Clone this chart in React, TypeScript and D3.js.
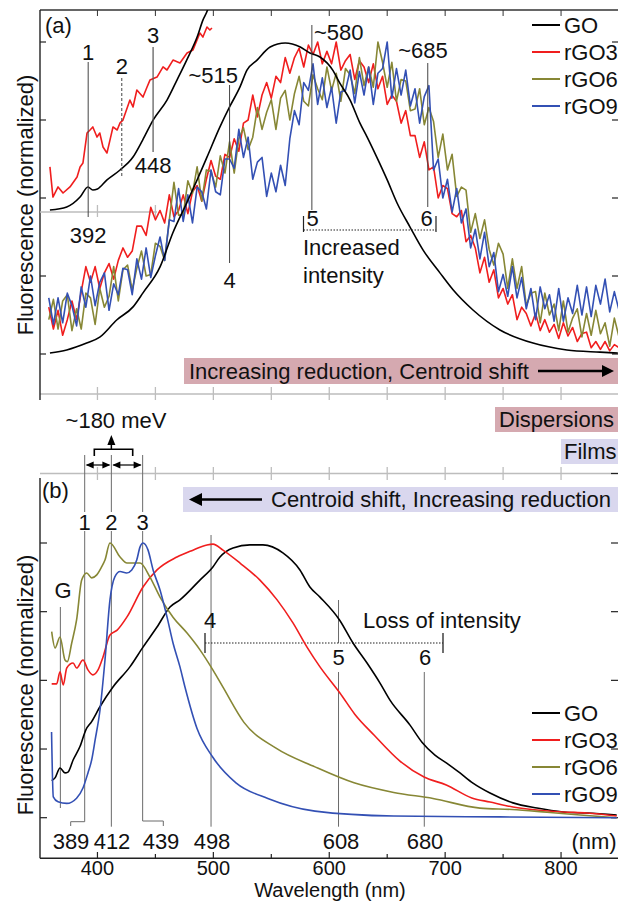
import { useEffect, useRef } from 'react';
import * as d3 from 'd3';

const W = 618;
const H = 901;
const FONT = '"Liberation Sans", Arial, Helvetica, sans-serif';

const seriesNames = ['GO', 'rGO3', 'rGO6', 'rGO9'];
const seriesColors = ['#000000', '#f01e1e', '#878735', '#3350b4'];

const xMajor = [400, 500, 600, 700, 800];
const xMinor = [450, 550, 650, 750];
const yTicks = [0, 0.25, 0.5, 0.75, 1];

// (a) dispersions, noisy spectra sampled every 4 nm
const dispNm = [
  358, 362, 366, 370, 374, 378, 382, 386, 390, 394,
  398, 402, 406, 410, 414, 418, 422, 426, 430, 434,
  438, 442, 446, 450, 454, 458, 462, 466, 470, 474,
  478, 482, 486, 490, 494, 498, 502, 506, 510, 514,
  518, 522, 526, 530, 534, 538, 542, 546, 550, 554,
  558, 562, 566, 570, 574, 578, 582, 586, 590, 594,
  598, 602, 606, 610, 614, 618, 622, 626, 630, 634,
  638, 642, 646, 650, 654, 658, 662, 666, 670, 674,
  678, 682, 686, 690, 694, 698, 702, 706, 710, 714,
  718, 722, 726, 730, 734, 738, 742, 746, 750, 754,
  758, 762, 766, 770, 774, 778, 782, 786, 790, 794,
  798, 802, 806, 810, 814, 818, 822, 826, 830, 834,
  838, 842, 846, 850,
];
const dispRGO3 = [
  0.15, 0.08, 0.14, 0.06, 0.11, 0.17, 0.11, 0.20, 0.28, 0.23,
  0.28, 0.21, 0.26, 0.29, 0.24, 0.30, 0.34, 0.31, 0.33, 0.41,
  0.41, 0.38, 0.47, 0.43, 0.46, 0.42, 0.51, 0.44, 0.46, 0.51,
  0.45, 0.52, 0.54, 0.49, 0.56, 0.62, 0.57, 0.56, 0.64, 0.63,
  0.69, 0.65, 0.74, 0.75, 0.83, 0.76, 0.83, 0.87, 0.82, 0.89,
  0.87, 0.95, 0.90, 0.95, 0.98, 0.92, 0.99, 0.96, 1.0, 0.93,
  0.97, 0.93, 1.0, 0.91, 0.94, 0.96, 0.88, 0.94, 0.92, 0.87,
  0.93, 0.85, 0.89, 0.80, 0.83, 0.81, 0.74, 0.78, 0.70, 0.70,
  0.63, 0.68, 0.59, 0.60, 0.50, 0.54, 0.53, 0.45, 0.44, 0.46,
  0.36, 0.38, 0.34, 0.26, 0.31, 0.23, 0.27, 0.18, 0.21, 0.16,
  0.19, 0.11, 0.15, 0.13, 0.09, 0.13, 0.075, 0.11, 0.07, 0.095,
  0.05, 0.10, 0.058, 0.085, 0.04, 0.066, 0.07, 0.02, 0.04, 0.015,
  0.04, 0.01, 0.03, 0.02,
];
const dispRGO6 = [
  0.11, 0.175, 0.08, 0.17, 0.19, 0.075, 0.145, 0.08, 0.195, 0.18,
  0.095, 0.21, 0.15, 0.185, 0.28, 0.17, 0.27, 0.285, 0.205, 0.275,
  0.33, 0.25, 0.255, 0.355, 0.345, 0.30, 0.43, 0.55, 0.445, 0.445,
  0.555, 0.515, 0.60, 0.49, 0.59, 0.585, 0.535, 0.635, 0.58, 0.68,
  0.58, 0.69, 0.725, 0.655, 0.695, 0.79, 0.72, 0.775, 0.815, 0.72,
  0.82, 0.845, 0.75, 0.835, 0.89, 0.81, 0.795, 0.895, 0.85, 0.815,
  0.92, 0.845, 0.90, 0.81, 0.915, 0.895, 0.835, 0.95, 0.86, 0.92,
  0.855, 1.0, 0.935, 0.855, 0.935, 0.81, 0.88, 0.875, 0.78, 0.785,
  0.85, 0.735, 0.79, 0.745, 0.63, 0.705, 0.59, 0.64, 0.505, 0.535,
  0.525, 0.39, 0.45, 0.37, 0.43, 0.335, 0.285, 0.355, 0.32, 0.21,
  0.305, 0.21, 0.28, 0.155, 0.195, 0.20, 0.10, 0.195, 0.125, 0.16,
  0.075, 0.17, 0.07, 0.115, 0.145, 0.055, 0.13, 0.06, 0.14, 0.065,
  0.10, 0.025, 0.115, 0.055,
];
const dispRGO9 = [
  0.18, 0.095, 0.18, 0.10, 0.195, 0.155, 0.09, 0.215, 0.15, 0.25,
  0.155, 0.23, 0.26, 0.14, 0.225, 0.19, 0.275, 0.27, 0.19, 0.305,
  0.24, 0.34, 0.245, 0.315, 0.375, 0.30, 0.43, 0.425, 0.53, 0.425,
  0.51, 0.42, 0.535, 0.52, 0.465, 0.59, 0.52, 0.51, 0.625, 0.625,
  0.595, 0.72, 0.63, 0.695, 0.56, 0.615, 0.63, 0.505, 0.58, 0.52,
  0.605, 0.54, 0.69, 0.78, 0.735, 0.87, 0.845, 0.93, 0.80, 0.885,
  0.79, 0.855, 0.74, 0.84, 0.845, 0.91, 0.805, 0.905, 0.83, 0.92,
  0.80, 0.90, 0.915, 1.0, 0.82, 0.915, 0.83, 0.91, 0.795, 0.85,
  0.74, 0.825, 0.86, 0.59, 0.625, 0.50, 0.56, 0.455, 0.53, 0.42,
  0.465, 0.34, 0.40, 0.305, 0.39, 0.28, 0.325, 0.20, 0.255, 0.185,
  0.28, 0.18, 0.245, 0.145, 0.21, 0.11, 0.215, 0.145, 0.19, 0.105,
  0.21, 0.105, 0.18, 0.13, 0.22, 0.125, 0.215, 0.12, 0.22, 0.16,
  0.24, 0.135, 0.20, 0.14,
];
const dispGO: [number, number][] = [
  [359, 0.003], [373.5, 0.013], [390.7, 0.035], [402, 0.054], [416.6, 0.109],
  [430.7, 0.151], [439.3, 0.196], [454, 0.279], [465, 0.388], [477, 0.484],
  [486, 0.558], [494.5, 0.631], [505.7, 0.728], [514, 0.792], [523, 0.856],
  [529, 0.91], [537.7, 0.942], [549, 0.984], [562, 0.997], [575, 0.984],
  [583.3, 0.965], [592, 0.952], [603, 0.91], [609, 0.869], [618, 0.814],
  [626.5, 0.74], [632.6, 0.696], [641, 0.631], [650, 0.558], [658.5, 0.484],
  [669.7, 0.407], [681, 0.333], [695.5, 0.26], [707, 0.205], [724, 0.141],
  [747.3, 0.077], [775.8, 0.035], [805, 0.013], [833.6, 0.006], [849, 0.003],
];

// (a) inset, short-wavelength zoom
const insetGO: [number, number][] = [
  [359, 0.01], [373.5, 0.025], [385, 0.074], [391.8, 0.124], [396, 0.109],
  [400, 0.114], [408, 0.158], [419.5, 0.208], [430.7, 0.272], [439, 0.356],
  [448, 0.455], [460, 0.554], [468.6, 0.653], [477, 0.752], [486, 0.866],
  [491, 0.95], [495, 1.0], [498, 1.06],
];
const insetRGO3: [number, number][] = [
  [359, 0.223], [361.6, 0.074], [366, 0.124], [370.3, 0.094], [376.3, 0.124],
  [382.4, 0.173], [385, 0.223], [387.5, 0.243], [391, 0.391], [393.6, 0.406],
  [396, 0.421], [399.6, 0.371], [402, 0.391], [404.8, 0.322], [408.2, 0.292],
  [410.8, 0.356], [413.4, 0.421], [417, 0.406], [419.5, 0.441], [422, 0.455],
  [428, 0.554], [430.7, 0.52], [434, 0.604], [439.3, 0.569], [442.8, 0.619],
  [445.3, 0.653], [451.4, 0.668], [456.6, 0.718], [460, 0.703], [465.2, 0.752],
  [471.2, 0.738], [477.3, 0.787], [482.4, 0.802], [488.4, 0.886], [491, 0.866],
  [494.5, 0.916], [497, 0.901], [498.8, 0.911],
];

// (b) films
const filmGO: [number, number][] = [
  [360.5, 0.135], [363.4, 0.145], [367.7, 0.181], [372, 0.163], [374.6, 0.166],
  [379, 0.21], [385, 0.26], [390, 0.32], [395, 0.35], [402, 0.403],
  [413.4, 0.476], [428, 0.549], [439.3, 0.621], [451.4, 0.694], [462.6, 0.767],
  [471.2, 0.793], [488.4, 0.865], [499.6, 0.913], [505.7, 0.949], [517, 0.982],
  [531.6, 0.993], [542.8, 0.993], [560, 0.964], [574.7, 0.902], [583.3, 0.84],
  [592, 0.803], [609, 0.719], [620.5, 0.636], [632.6, 0.563], [643.8, 0.49],
  [652.4, 0.428], [669.7, 0.337], [680, 0.275], [691.2, 0.228], [701.3, 0.199],
  [712.8, 0.163], [724, 0.126], [738.7, 0.09], [758.5, 0.054], [779.2, 0.035],
  [801.7, 0.021], [822.4, 0.017], [848, 0.01],
];
const filmRGO3: [number, number][] = [
  [360.5, 0.487], [364.8, 0.487], [367.7, 0.531], [370.5, 0.483], [373.5, 0.545],
  [379, 0.563], [382, 0.545], [387.5, 0.574], [391.8, 0.538], [396, 0.52],
  [400.5, 0.538], [404.8, 0.585], [410.8, 0.665], [417, 0.683], [425.5, 0.731],
  [439.3, 0.84], [451.4, 0.902], [468.6, 0.949], [482.4, 0.974], [494.5, 0.993],
  [499.7, 0.996], [508.3, 0.974], [523, 0.927], [540.2, 0.865], [555, 0.793],
  [568.7, 0.709], [580.8, 0.621], [592, 0.549], [609.2, 0.454], [622, 0.377],
  [638.6, 0.301], [661, 0.206], [681.8, 0.148], [701, 0.119], [723, 0.072],
  [738.7, 0.057], [758.5, 0.039], [779.2, 0.028], [801.7, 0.021], [822.4, 0.017],
  [848, 0.006],
];
const filmRGO6: [number, number][] = [
  [360.5, 0.677], [363.4, 0.618], [367.7, 0.658], [372, 0.574], [374, 0.568],
  [377.8, 0.636], [382, 0.72], [386.4, 0.865], [390.7, 0.891], [395, 0.873],
  [399.4, 0.884], [403.7, 0.914], [406.5, 0.938], [410.8, 1.0], [419.5, 0.949],
  [425.5, 0.927], [430.7, 0.927], [436.7, 0.927], [445.3, 0.876], [454, 0.803],
  [465.2, 0.73], [477.3, 0.672], [488.6, 0.61], [499.7, 0.537], [508.3, 0.475],
  [526.4, 0.347], [553.7, 0.254], [587.7, 0.185], [621.4, 0.127], [655.6, 0.092],
  [689.5, 0.07], [730, 0.035], [757.7, 0.03], [787.9, 0.02], [816.4, 0.01],
  [848, 0.0],
];
const filmRGO9: [number, number][] = [
  [360.4, 0.312], [361.9, 0.076], [366, 0.058], [373.5, 0.052], [382, 0.071],
  [387.5, 0.108], [391.8, 0.163], [395, 0.21], [398, 0.283], [402.2, 0.392],
  [406.5, 0.574], [410.8, 0.793], [415, 0.877], [419.5, 0.896], [425.2, 0.891],
  [429.6, 0.902], [433.9, 0.938], [436.7, 0.985], [439.3, 1.0], [443.6, 0.975],
  [448, 0.902], [454, 0.829], [460, 0.731], [465.2, 0.636], [471.2, 0.549],
  [475.5, 0.476], [486, 0.324], [499.4, 0.221], [519.5, 0.127], [547, 0.07],
  [587.7, 0.024], [655.6, 0.006], [747.3, 0.003], [848, 0.0],
];

const filmPeakLabels = ['389', '412', '439', '498', '608', '680'];

export default function App() {
  const svgRef = useRef<SVGSVGElement>(null);

  useEffect(() => {
    if (!svgRef.current) return;
    const svg = d3.select(svgRef.current);
    svg.selectAll('*').remove();

    const x = d3.scaleLinear().domain([350, 850]).range([39.5, 619]);
    const ya = d3.scaleLinear().domain([0, 1]).range([354, 42]);
    const yi = d3.scaleLinear().domain([0, 1]).range([212, 10]);
    const yb = d3.scaleLinear().domain([0, 1]).range([817.7, 543]);

    const defs = svg.append('defs');
    defs.append('clipPath').attr('id', 'clipA').append('rect')
      .attr('x', 40).attr('y', 10).attr('width', 578).attr('height', 384);
    defs.append('clipPath').attr('id', 'clipInset').append('rect')
      .attr('x', 40).attr('y', 10).attr('width', 200).attr('height', 202);
    defs.append('clipPath').attr('id', 'clipB').append('rect')
      .attr('x', 40).attr('y', 474).attr('width', 578).attr('height', 384);

    const txt = (g: any, xx: number, yy: number, s: string, anchor = 'middle', size = 22) =>
      g.append('text')
        .attr('x', xx).attr('y', yy)
        .attr('text-anchor', anchor)
        .attr('font-size', size)
        .attr('font-family', FONT)
        .attr('fill', '#111')
        .text(s);

    const seg = (g: any, x1: number, y1: number, x2: number, y2: number, color = '#555', w = 1, dash = '') => {
      const l = g.append('line')
        .attr('x1', x1).attr('y1', y1).attr('x2', x2).attr('y2', y2)
        .attr('stroke', color).attr('stroke-width', w);
      if (dash) l.attr('stroke-dasharray', dash);
      return l;
    };

    const arrowHead = (g: any, tipX: number, tipY: number, dir: 'left' | 'right' | 'up', len = 11, half = 6) => {
      let pts: [number, number][];
      if (dir === 'right') pts = [[tipX, tipY], [tipX - len, tipY - half], [tipX - len, tipY + half]];
      else if (dir === 'left') pts = [[tipX, tipY], [tipX + len, tipY - half], [tipX + len, tipY + half]];
      else pts = [[tipX, tipY], [tipX - half, tipY + len], [tipX + half, tipY + len]];
      g.append('polygon').attr('points', pts.map(p => p.join(',')).join(' ')).attr('fill', '#000');
    };

    const allTicks = [...xMajor, ...xMinor];

    // ---------- panel (a) frame ----------
    const a = svg.append('g');
    seg(a, 40, 10, 618, 10, '#333', 1.3);
    allTicks.forEach(t => seg(a, x(t), 10, x(t), 16, '#333', 1));
    seg(a, 40, 394, 618, 394, '#bdbdbd', 1.6);
    allTicks.forEach(t => seg(a, x(t), 387, x(t), 400, '#bdbdbd', 1.3));
    seg(a, 40, 10, 40, 400, '#222', 1.4);
    yTicks.forEach(v => {
      seg(a, 40, ya(v), 46, ya(v), '#222', 1.2);
      seg(a, 612, ya(v), 618, ya(v), '#222', 1.2);
    });

    // inset axis
    seg(a, 40, 212, 157, 212, '#bdbdbd', 1.6);
    [400, 450].forEach(t => seg(a, x(t), 205, x(t), 217, '#bdbdbd', 1.3));

    // noisy curves
    const lineIdx = d3.line<number>()
      .x((_, i) => x(dispNm[i]))
      .y(d => ya(d));
    const lineA = d3.line<[number, number]>().x(d => x(d[0])).y(d => ya(d[1])).curve(d3.curveMonotoneX);
    const lineI = d3.line<[number, number]>().x(d => x(d[0])).y(d => yi(d[1]));

    const ca = a.append('g').attr('clip-path', 'url(#clipA)');
    [dispRGO3, dispRGO6, dispRGO9].forEach((s, k) => {
      ca.append('path').attr('d', lineIdx(s)).attr('fill', 'none')
        .attr('stroke', seriesColors[k + 1]).attr('stroke-width', 1.6)
        .attr('stroke-linejoin', 'round');
    });
    ca.append('path').attr('d', lineA(dispGO)).attr('fill', 'none')
      .attr('stroke', '#000').attr('stroke-width', 1.6);

    const ci = a.append('g').attr('clip-path', 'url(#clipInset)');
    ci.append('path').attr('d', lineI(insetRGO3)).attr('fill', 'none')
      .attr('stroke', seriesColors[1]).attr('stroke-width', 1.6).attr('stroke-linejoin', 'round');
    ci.append('path').attr('d', lineI.curve(d3.curveMonotoneX)(insetGO)).attr('fill', 'none')
      .attr('stroke', '#000').attr('stroke-width', 1.6);

    // inset annotations
    seg(a, x(392), 62, x(392), 217, '#444', 1);
    txt(a, x(392), 59.5, '1');
    txt(a, x(392), 242.5, '392');
    seg(a, x(421), 78, x(421), 178, '#444', 1, '3,2');
    txt(a, x(421), 74, '2');
    seg(a, x(448), 47, x(448), 152, '#555', 1.2);
    txt(a, x(448), 42.5, '3');
    txt(a, x(448), 172.5, '448');

    // main annotations
    txt(a, 238, 82.5, '~515', 'end');
    seg(a, x(514), 85, x(514), 263, '#444', 1);
    txt(a, x(514), 287.5, '4');
    seg(a, x(585), 25, x(585), 210, '#444', 1);
    txt(a, 314, 39.5, '~580', 'start');
    txt(a, 312.5, 226, '5');
    seg(a, x(685), 63, x(685), 207, '#444', 1);
    txt(a, 423, 57.5, '~685');
    txt(a, 426.5, 226, '6');
    seg(a, 303.5, 216, 303.5, 232, '#222', 1.2);
    seg(a, 436, 216, 436, 232, '#222', 1.2);
    seg(a, 303.5, 230, 436, 230, '#222', 1.2, '1.5,1.5');
    txt(a, 303, 254.5, 'Increased', 'start');
    txt(a, 303, 282.5, 'intensity', 'start');
    txt(a, 45, 32.5, '(a)', 'start');

    a.append('text')
      .attr('transform', 'translate(33,205) rotate(-90)')
      .attr('text-anchor', 'middle').attr('font-size', 22).attr('font-family', FONT)
      .attr('fill', '#111').text('Fluorescence (normalized)');

    // legend
    const legend = (g: any, y0: number) => {
      seriesNames.forEach((n, i) => {
        const yy = y0 + i * 27;
        seg(g, 532, yy, 560, yy, seriesColors[i], 2);
        txt(g, 564, yy + 7.5, n, 'start');
      });
    };
    legend(a, 25);

    // pink box
    a.append('rect').attr('x', 184).attr('y', 358).attr('width', 434).attr('height', 26).attr('fill', '#d5a9b0');
    txt(a, 189, 378.5, 'Increasing reduction, Centroid shift', 'start');
    seg(a, 538, 371, 604, 371, '#000', 2.6);
    arrowHead(a, 614, 371, 'right', 12, 6);

    // ---------- middle ----------
    const m = svg.append('g');
    m.append('rect').attr('x', 495).attr('y', 407).attr('width', 123).attr('height', 25).attr('fill', '#d5a9b0');
    txt(m, 499, 426.5, 'Dispersions', 'start');
    m.append('rect').attr('x', 561).attr('y', 439).attr('width', 57).attr('height', 25).attr('fill', '#d9d7ee');
    txt(m, 564, 458.5, 'Films', 'start');

    txt(m, 116, 428, '~180 meV');
    arrowHead(m, x(412), 435, 'up', 10, 4);
    seg(m, x(412), 444, x(412), 449.5, '#000', 1.5);
    m.append('path').attr('d', `M94.3,456 V449.3 H132.7 V456`).attr('fill', 'none')
      .attr('stroke', '#000').attr('stroke-width', 1.6);
    const arrowPairs: [number, number][] = [[389, 412], [412, 439]];
    arrowPairs.forEach(([l, r]) => {
      const x1 = x(l), x2 = x(r);
      seg(m, x1 + 2, 465, x2 - 2, 465, '#000', 1.2);
      arrowHead(m, x1 + 1, 465, 'left', 8, 3.5);
      arrowHead(m, x2 - 1, 465, 'right', 8, 3.5);
    });

    // ---------- panel (b) frame ----------
    const b = svg.append('g');
    seg(b, 40, 473.5, 618, 473.5, '#bdbdbd', 1.6);
    allTicks.forEach(t => seg(b, x(t), 467, x(t), 480, '#bdbdbd', 1.3));
    seg(b, 40, 478, 40, 858.3, '#222', 1.4);
    seg(b, 40, 858.3, 618, 858.3, '#222', 1.5);
    xMajor.forEach(t => {
      seg(b, x(t), 858.3, x(t), 852, '#222', 1.2);
      txt(b, x(t), 874.5, String(t), 'middle', 20);
    });
    xMinor.forEach(t => seg(b, x(t), 858.3, x(t), 854, '#222', 1.2));
    yTicks.forEach(v => {
      seg(b, 40, yb(v), 47, yb(v), '#222', 1.2);
      seg(b, 611, yb(v), 618, yb(v), '#222', 1.2);
    });
    seg(b, 611, 473.5, 618, 473.5, '#222', 1.2);
    txt(b, 330, 897, 'Wavelength (nm)', 'middle', 20);
    txt(b, 594, 848.5, '(nm)');
    txt(b, 42, 497.5, '(b)', 'start');
    b.append('text')
      .attr('transform', 'translate(33,685) rotate(-90)')
      .attr('text-anchor', 'middle').attr('font-size', 22).attr('font-family', FONT)
      .attr('fill', '#111').text('Fluorescence (normalized)');

    // lavender box
    b.append('rect').attr('x', 183).attr('y', 487).attr('width', 435).attr('height', 25).attr('fill', '#d9d7ee');
    arrowHead(b, 189, 499.5, 'left', 13, 6.5);
    seg(b, 200, 499.5, 262, 499.5, '#000', 2.6);
    txt(b, 271, 507, 'Centroid shift, Increasing reduction', 'start');

    // peak marker lines
    const gl = '#6a6a6a';
    seg(b, x(368), 607, x(368), 808, gl, 1);
    txt(b, 63, 597.5, 'G');
    [389, 412, 439].forEach((nm, i) => {
      seg(b, x(nm), 455, x(nm), 512, gl, 1);
      txt(b, x(nm), 529.5, String(i + 1));
    });
    b.append('path').attr('d', `M${x(389)},531 V821.7 H70.7 V826`).attr('fill', 'none').attr('stroke', gl);
    seg(b, x(412), 531, x(412), 826.7, gl, 1);
    b.append('path').attr('d', `M${x(439)},531 V821 H163.3 V826`).attr('fill', 'none').attr('stroke', gl);
    seg(b, x(498), 535, x(498), 826.7, gl, 1);
    txt(b, 210, 627.5, '4');
    seg(b, x(608), 600, x(608), 643, gl, 1);
    seg(b, x(608), 672, x(608), 826.7, gl, 1);
    txt(b, x(608), 664.5, '5');
    seg(b, x(682), 672, x(682), 826.7, gl, 1);
    txt(b, 425, 664.5, '6');
    seg(b, 205, 633, 205, 653, '#222', 1.3);
    seg(b, 443, 633, 443, 653, '#222', 1.3);
    seg(b, 205, 643, 443, 643, '#222', 1.2, '1.5,1.5');
    txt(b, 363, 627.5, 'Loss of intensity', 'start');

    const peakX = [71, 112, 161, 212, 341, 425];
    filmPeakLabels.forEach((s, i) => txt(b, peakX[i], 848.5, s));

    // curves (b)
    const lineB = d3.line<[number, number]>().x(d => x(d[0])).y(d => yb(d[1])).curve(d3.curveMonotoneX);
    const cb = b.append('g').attr('clip-path', 'url(#clipB)');
    [filmGO, filmRGO3, filmRGO6, filmRGO9].forEach((s, k) => {
      cb.append('path').attr('d', lineB(s)).attr('fill', 'none')
        .attr('stroke', seriesColors[k]).attr('stroke-width', 1.6);
    });

    legend(b, 713);
  }, []);

  return (
    <svg
      ref={svgRef}
      width={W}
      height={H}
      style={{ position: 'absolute', left: 0, top: 0, background: '#fff' }}
    />
  );
}
